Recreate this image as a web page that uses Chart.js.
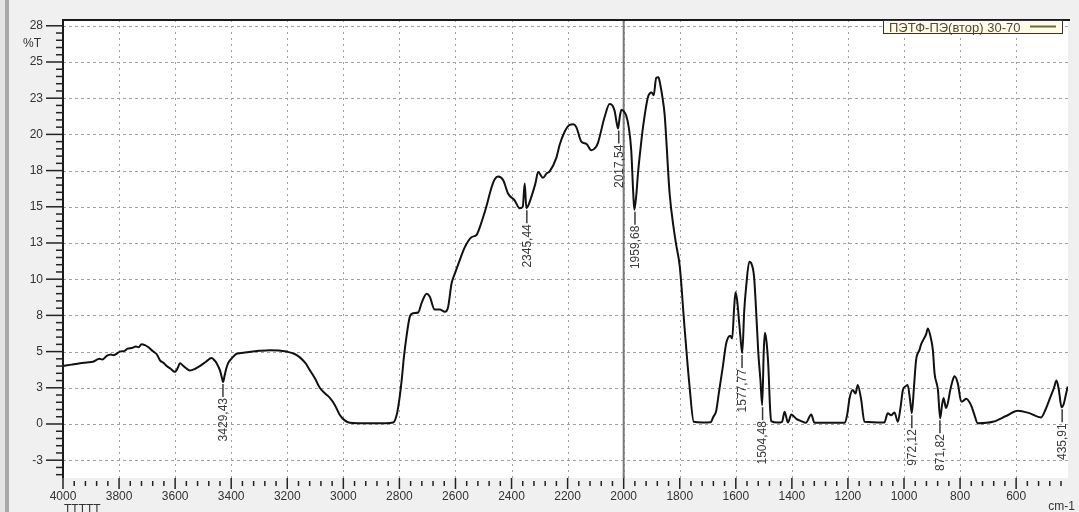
<!DOCTYPE html>
<html><head><meta charset="utf-8">
<script src="https://cdn.jsdelivr.net/npm/chart.js@4.4.0/dist/chart.umd.min.js"></script>
<style>html,body{margin:0;padding:0;background:#f0f0f0;}#wrap{width:1079px;height:512px;position:relative;}</style>
</head><body><div id="wrap"><canvas id="c" width="1079" height="512"></canvas></div>
<script>
const wavenumbers = [4000,3970,3939,3915,3893,3870,3860,3844,3830,3820,3797,3780,3770,3755,3740,3730,3720,3708,3695,3678,3665,3654,3640,3630,3615,3601,3590,3583,3570,3547,3530,3512,3490,3470,3460,3452,3440,3432,3429,3424,3418,3411,3395,3381,3365,3345,3300,3262,3230,3203,3175,3155,3135,3119,3100,3084,3065,3048,3030,3012,2995,2977,2950,2900,2850,2822,2810,2804,2792,2784,2775,2763,2751,2733,2720,2703,2692,2674,2656,2638,2626,2614,2600,2585,2567,2543,2525,2513,2490,2472,2460,2448,2430,2412,2389,2371,2360,2353,2347,2340,2329,2315,2305,2288,2275,2264,2240,2228,2210,2193,2180,2169,2151,2133,2115,2100,2092,2068,2050,2040,2032,2025,2020,2014,2008,2000,1991,1982,1973,1966,1962,1955,1949,1940,1931,1913,1900,1893,1884,1876,1870,1862,1854,1836,1820,1812,1800,1783,1765,1750,1720,1690,1680,1670,1660,1646,1635,1628,1620,1613,1606,1601,1595,1588,1580,1577,1570,1563,1552,1545,1535,1528,1520,1512,1506,1500,1496,1490,1484,1478,1474,1450,1435,1426,1414,1402,1384,1367,1350,1331,1319,1212,1203,1194,1183,1173,1165,1153,1141,1070,1058,1046,1034,1022,1012,1004,995,987,978,972,965,957,945,939,921,915,905,897,891,879,871,865,859,850,843,836,828,820,808,796,788,778,761,750,737,683,636,594,553,511,495,481,465,456,448,438,430,424,416];
const transmittance = [4.0,4.1,4.2,4.25,4.3,4.5,4.45,4.7,4.8,4.75,5.0,5.05,5.2,5.25,5.35,5.3,5.5,5.45,5.3,5.0,4.8,4.4,4.2,4.0,3.8,3.6,3.9,4.2,4.0,3.7,3.8,4.0,4.3,4.55,4.4,4.2,3.7,3.1,2.9,3.3,3.8,4.2,4.6,4.85,4.9,4.95,5.05,5.1,5.08,5.0,4.85,4.6,4.2,3.7,3.1,2.5,2.1,1.8,1.3,0.6,0.25,0.08,0.05,0.05,0.05,0.1,0.6,1.2,3.0,4.6,6.0,7.4,7.65,7.7,8.4,9.0,8.8,7.9,7.9,7.75,8.1,9.7,10.5,11.3,12.2,12.9,13.05,13.6,15.0,16.3,16.9,17.1,16.85,15.9,15.45,14.9,15.0,16.6,14.9,15.1,15.7,16.6,17.4,17.0,17.3,17.45,18.4,19.3,20.2,20.65,20.7,20.5,19.5,19.35,18.9,19.1,19.4,21.2,22.1,22.0,21.6,20.8,20.4,21.2,21.7,21.6,21.3,20.5,18.9,16.0,14.8,15.8,17.3,19.0,20.5,22.6,22.9,22.7,23.9,23.95,23.5,22.6,21.4,15.9,13.3,12.3,10.9,6.7,2.6,0.15,0.1,0.12,0.5,0.9,2.2,4.0,5.5,5.95,6.1,5.9,8.0,9.1,8.5,7.0,5.3,4.9,7.8,9.5,11.2,11.1,10.2,8.0,5.0,3.0,1.3,5.2,6.3,5.6,4.0,1.2,0.2,0.1,0.15,0.85,0.1,0.65,0.35,0.2,0.08,0.65,0.08,0.08,0.6,1.8,2.35,2.1,2.7,1.7,0.15,0.1,0.75,0.6,0.8,0.15,1.2,2.35,2.6,2.7,1.6,0.75,2.4,4.4,5.1,5.5,6.2,6.6,6.0,5.1,3.5,2.35,0.4,1.2,1.8,1.1,1.5,2.25,2.9,3.3,2.8,1.55,1.6,1.75,1.3,0.7,0.05,0.15,0.55,0.92,0.75,0.45,1.0,1.7,2.5,3.0,2.4,1.15,1.4,1.9,2.6];
const xTickValues = [4000,3800,3600,3400,3200,3000,2800,2600,2400,2200,2000,1800,1600,1400,1200,1000,800,600];
const xTickLabels = ['4000','3800','3600','3400','3200','3000','2800','2600','2400','2200','2000','1800','1600','1400','1200','1000','800','600'];
const yTickValues = [-2.5,0,2.5,5,7.5,10,12.5,15,17.5,20,22.5,25,27.5];
const yTickLabels = ['-3','0','3','5','8','10','13','15','18','20','23','25','28'];
const peakPositions = [3429.43,2345.44,2017.54,1959.68,1577.77,1504.48,972.12,871.82,435.91];
const peakValues = [2.9,14.9,20.4,14.8,4.9,1.3,0.75,0.4,1.15];
const peakLabels = ['3429,43','2345,44','2017,54','1959,68','1577,77','1504,48','972,12','871,82','435,91'];
const seriesName = 'ПЭТФ-ПЭ(втор) 30-70';
const cursorPosition = 2000;
const xMinor = 40, yMinor = 0.5;

const decor = {
  id:'decor',
  beforeDraw(chart){
    const c = chart.ctx, a = chart.chartArea;
    c.save();
    c.fillStyle='#f0f0f0'; c.fillRect(0,0,chart.width,chart.height);
    c.fillStyle='#e4e4e4'; c.fillRect(0,0,5,chart.height);
    c.fillStyle='#a8a8a8'; c.fillRect(5,0,4,chart.height);
    c.fillStyle='#ffffff'; c.fillRect(a.left,a.top,a.right-a.left,a.bottom-a.top);
    c.restore();
  },
  beforeDatasetsDraw(chart){
    const c = chart.ctx, a = chart.chartArea, xs = chart.scales.x, ys = chart.scales.y;
    c.save();
    c.strokeStyle='#a0a0a0'; c.lineWidth=1;
    c.setLineDash([3,3]);
    yTickValues.forEach(v=>{const y=Math.round(ys.getPixelForValue(v))+0.5; c.beginPath(); c.moveTo(a.left,y); c.lineTo(a.right,y); c.stroke();});
    c.setLineDash([2,4]);
    xTickValues.forEach(v=>{const x=Math.round(xs.getPixelForValue(v))+0.5; c.beginPath(); c.moveTo(x,a.top); c.lineTo(x,a.bottom); c.stroke();});
    c.setLineDash([]);
    const cx = xs.getPixelForValue(cursorPosition);
    c.strokeStyle='#7a7a7a'; c.lineWidth=2;
    c.beginPath(); c.moveTo(cx,a.top); c.lineTo(cx,a.bottom); c.stroke();
    c.restore();
  },
  afterDraw(chart){
    const c = chart.ctx, a = chart.chartArea, xs = chart.scales.x, ys = chart.scales.y;
    c.save();
    c.strokeStyle='#1a1a1a'; c.lineWidth=2;
    c.beginPath(); c.moveTo(a.left-1,a.top); c.lineTo(a.right+2,a.top); c.stroke();
    c.beginPath(); c.moveTo(a.left,a.top); c.lineTo(a.left,a.bottom); c.stroke();
    c.lineWidth=1.5; c.strokeStyle='#222';
    for(let v=Math.ceil(ys.min/yMinor)*yMinor; v<=ys.max; v+=yMinor){
      const y=ys.getPixelForValue(v); const major = yTickValues.some(t=>Math.abs(t-v)<1e-6);
      c.beginPath(); c.moveTo(major?46:56,y); c.lineTo(a.left,y); c.stroke();
    }
    for(let v=4000; v>=xs.min; v-=xMinor){
      const x=xs.getPixelForValue(v); const major = xTickValues.includes(v);
      c.beginPath(); c.moveTo(x, major?a.bottom:a.bottom+3); c.lineTo(x, major?a.bottom+11:a.bottom+8); c.stroke();
    }
    c.fillStyle='#333'; c.font='12px "Liberation Sans", Arial, sans-serif';
    c.textBaseline='middle'; c.textAlign='left';
    c.fillText('%T', 23, 44);
    c.textAlign='right'; c.textBaseline='alphabetic';
    c.fillText('cm-1', 1075, 510);
    c.textAlign='left'; c.textBaseline='top';
    c.fillText('TTTTT', 64, 504);
    c.strokeStyle='#3a3a3a'; c.fillStyle='#3a3a3a'; c.lineWidth=1.5;
    c.font='12px "Liberation Sans Narrow", "Liberation Sans", Arial, sans-serif';
    peakPositions.forEach((p,i)=>{
      const x = xs.getPixelForValue(p), y = ys.getPixelForValue(peakValues[i]);
      c.beginPath(); c.moveTo(x,y+2); c.lineTo(x,y+15); c.stroke();
      c.save(); c.translate(x+0.5,y+16); c.rotate(-Math.PI/2);
      c.textAlign='right'; c.textBaseline='middle'; c.fillText(peakLabels[i],0,0);
      c.restore();
    });
    const bx=883, by=a.top, bw=179, bh=13;
    c.fillStyle='#fffbe6'; c.fillRect(bx,by,bw,bh);
    c.strokeStyle='#333'; c.lineWidth=1; c.strokeRect(bx+0.5,by+0.5,bw,bh);
    c.fillStyle='#4d4a35'; c.font='13px "Liberation Sans", Arial, sans-serif';
    c.textAlign='left'; c.textBaseline='alphabetic';
    c.fillText(seriesName, bx+6, by+11.5);
    c.strokeStyle='#6b6840'; c.lineWidth=2;
    c.beginPath(); c.moveTo(1030,by+6.5); c.lineTo(1056,by+6.5); c.stroke();
    c.restore();
  }
};

new Chart(document.getElementById('c').getContext('2d'), {
  type:'line',
  data:{datasets:[{label:seriesName, data:wavenumbers.map((x,i)=>({x:x,y:transmittance[i]})), borderColor:'#111', borderWidth:2, pointRadius:0, cubicInterpolationMode:'monotone', fill:false}]},
  options:{
    responsive:false, animation:false, devicePixelRatio:1,
    layout:{padding:{top:20,right:11,left:0,bottom:0}},
    plugins:{legend:{display:false}, tooltip:{enabled:false}},
    scales:{
      x:{type:'linear', reverse:true, min:415, max:4000,
        afterBuildTicks:s=>{s.ticks=xTickValues.map(v=>({value:v}));},
        afterFit:s=>{s.height=34; s.paddingLeft=0; s.paddingRight=0;},
        ticks:{callback:(v)=>{const i=xTickValues.indexOf(v);return i>=0?xTickLabels[i]:'';}, font:{family:'"Liberation Sans", Arial, sans-serif', size:12}, color:'#333', padding:11, maxRotation:0, autoSkip:false},
        grid:{drawTicks:false, drawOnChartArea:false}, border:{display:false}},
      y:{type:'linear', min:-3.73, max:27.9,
        afterBuildTicks:s=>{s.ticks=yTickValues.map(v=>({value:v}));},
        afterFit:s=>{s.width=63; s.paddingTop=0; s.paddingBottom=0;},
        ticks:{callback:(v)=>{const i=yTickValues.indexOf(v);return i>=0?yTickLabels[i]:'';}, font:{family:'"Liberation Sans", Arial, sans-serif', size:12}, color:'#333', padding:20, autoSkip:false},
        grid:{drawTicks:false, drawOnChartArea:false}, border:{display:false}}
    }
  },
  plugins:[decor]
});
</script></body></html>
